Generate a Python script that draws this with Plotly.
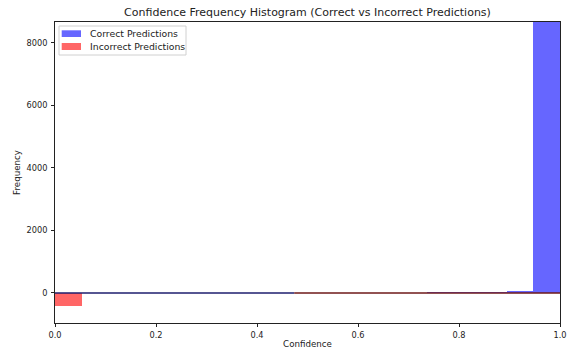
import plotly.graph_objects as go

n_bins = 19
bin_width = 1.0 / n_bins
bin_centers = [(i + 0.5) * bin_width for i in range(n_bins)]

# counts per bin
correct_counts = [4, 3, 3, 3, 4, 4, 5, 6, 7, 8, 9, 10, 12, 14, 17, 22, 30, 64, 9500]
incorrect_counts = [416, 3, 3, 3, 3, 3, 3, 3, 3, 3, 3, 3, 4, 4, 4, 5, 5, 6, 8]

series_names = ["Correct Predictions", "Incorrect Predictions"]
series_colors = ["rgba(0,0,255,0.6)", "rgba(255,0,0,0.6)"]
edge_colors = ["rgb(30,30,110)", "rgb(110,25,25)"]
split_bin = 9  # bins with visible blue edge vs red edge along zero

y_ticks = [0, 2000, 4000, 6000, 8000]
x_ticks = [0, 0.2, 0.4, 0.6, 0.8, 1.0]

fig = go.Figure()

fig.add_trace(go.Bar(
    x=bin_centers, y=correct_counts, width=bin_width,
    name=series_names[0], showlegend=False,
    marker=dict(color=series_colors[0], line=dict(width=0)),
))
fig.add_trace(go.Bar(
    x=bin_centers, y=[-c for c in incorrect_counts], width=bin_width,
    name=series_names[1], showlegend=False,
    marker=dict(color=series_colors[1], line=dict(width=0)),
))
# bar edges along zero
edge_split = split_bin * bin_width
fig.add_trace(go.Scatter(x=[0, edge_split], y=[0, 0], mode="lines",
                         line=dict(color=edge_colors[0], width=1.4),
                         showlegend=False, hoverinfo="skip"))
fig.add_trace(go.Scatter(x=[edge_split, 1], y=[0, 0], mode="lines",
                         line=dict(color=edge_colors[1], width=1.4),
                         showlegend=False, hoverinfo="skip"))

# manual legend (matplotlib style)
L, R, T, B = 55, 560, 22, 323
def px(x): return (x - L) / (R - L)
def py(y): return (B - y) / (B - T)

shapes = [dict(type="rect", xref="paper", yref="paper",
               x0=px(59), x1=px(186), y0=py(55), y1=py(26),
               line=dict(color="#d0d0d0", width=1), fillcolor="rgba(255,255,255,0.8)")]
annotations = []
rows = [(30.3, 37, 33.7), (43, 50, 46.5)]
for (y0, y1, yc), name, col in zip(rows, series_names, series_colors):
    shapes.append(dict(type="rect", xref="paper", yref="paper",
                       x0=px(61.7), x1=px(81), y0=py(y1), y1=py(y0),
                       line=dict(width=0), fillcolor=col))
    annotations.append(dict(text=name, xref="paper", yref="paper",
                            x=px(88), y=py(yc), xanchor="left", yanchor="middle",
                            showarrow=False,
                            font=dict(family="DejaVu Sans", size=9.3, color="#222")))

axis_common = dict(
    showgrid=False, zeroline=False, showline=True, linecolor="#222", linewidth=1,
    mirror=True, ticks="outside", ticklen=3, tickcolor="#222", automargin=False,
    tickfont=dict(family="DejaVu Sans", size=8.2, color="#222"),
)

fig.update_layout(
    width=580, height=356,
    margin=dict(l=L, r=580 - R, t=T, b=356 - B, autoexpand=False),
    barmode="overlay", bargap=0,
    plot_bgcolor="white", paper_bgcolor="white",
    font=dict(family="DejaVu Sans", size=9, color="#222"),
    title=dict(text="Confidence Frequency Histogram (Correct vs Incorrect Predictions)",
               xref="paper", x=0.5, xanchor="center",
               yref="container", y=1 - 12.5 / 356, yanchor="middle",
               font=dict(family="DejaVu Sans", size=11, color="#222")),
    xaxis=dict(range=[0, 1], tickvals=x_ticks,
               ticktext=[f"{v:.1f}" for v in x_ticks],
               ticklabelstandoff=1,
               title=dict(text="Confidence", standoff=2,
                          font=dict(family="DejaVu Sans", size=8.7, color="#222")),
               **axis_common),
    yaxis=dict(range=[-960, 8670], tickvals=y_ticks,
               ticktext=[str(v) for v in y_ticks],
               ticklabelstandoff=2,
               title=dict(text="Frequency", standoff=4,
                          font=dict(family="DejaVu Sans", size=8.7, color="#222")),
               **axis_common),
    shapes=shapes,
    annotations=annotations,
    showlegend=False,
)

fig.write_html("out.html")
